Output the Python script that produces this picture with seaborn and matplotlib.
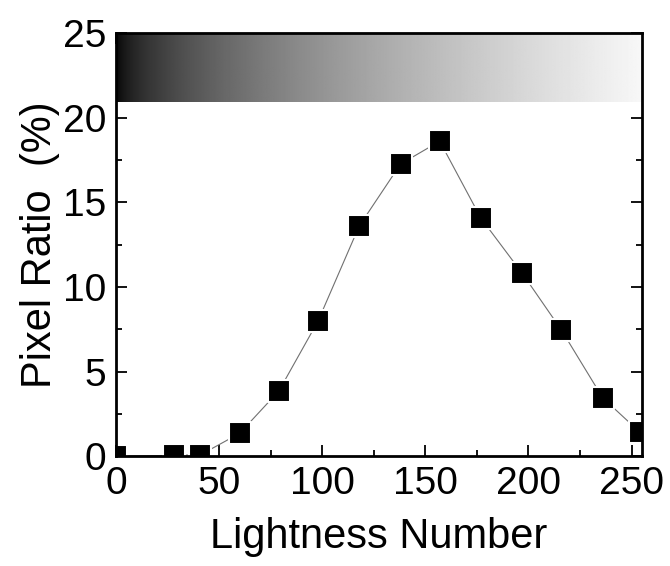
import numpy as np
import pandas as pd
import matplotlib
matplotlib.use("Agg")
import matplotlib.pyplot as plt
import seaborn as sns
from matplotlib.ticker import MultipleLocator

lightness = [0, 28, 41, 60, 79, 98, 118, 138, 157, 177, 197, 216, 236, 254]
pixel_ratio = [0.0, 0.05, 0.08, 1.35, 3.85, 7.98, 13.6, 17.25, 18.6, 14.05, 10.8, 7.45, 3.45, 1.42]
x_ticks = [0, 50, 100, 150, 200, 250]
y_ticks = [0, 5, 10, 15, 20, 25]

df = pd.DataFrame({"Lightness Number": lightness, "Pixel Ratio": pixel_ratio})

sns.set_style("ticks")
plt.rcParams['font.family'] = ['Liberation Sans', 'DejaVu Sans']
plt.rcParams.update({
    "text.color": "black", "axes.labelcolor": "black",
    "xtick.color": "black", "ytick.color": "black",
    "axes.edgecolor": "black",
})

fig = plt.figure(figsize=(6.7, 5.66), dpi=100)
ax = fig.add_axes([0.173, 0.194, 0.785, 0.748])

# gradient bar
grad = np.linspace(0, 1, 512) ** 0.55 * 0.97
ax.imshow(grad[np.newaxis, :], cmap="gray", vmin=0, vmax=1, aspect="auto",
          extent=(0, 255, 20.9, 25), zorder=1)

sns.lineplot(data=df, x="Lightness Number", y="Pixel Ratio", ax=ax,
             color="#707070", linewidth=0.8, zorder=2)
sns.scatterplot(data=df, x="Lightness Number", y="Pixel Ratio", ax=ax,
                marker="s", s=235, color="black", edgecolor="white",
                linewidth=1.5, zorder=3)

ax.set_xlim(0, 255)
ax.set_ylim(0, 25)
ax.set_xticks(x_ticks)
ax.set_yticks(y_ticks)
ax.xaxis.set_minor_locator(MultipleLocator(25))
ax.yaxis.set_minor_locator(MultipleLocator(2.5))
ax.tick_params(which="both", direction="in", top=True, right=True, width=1.3)
ax.tick_params(which="major", length=8, labelsize=28, pad=7)
ax.tick_params(which="minor", length=4)
for sp in ax.spines.values():
    sp.set_linewidth(2)
    sp.set_visible(True)
    sp.set_zorder(4)

ax.set_xlabel("Lightness Number", fontsize=30, labelpad=11)
ax.set_ylabel("Pixel Ratio  (%)", fontsize=30, labelpad=2)

fig.savefig("out.png", dpi=100)
